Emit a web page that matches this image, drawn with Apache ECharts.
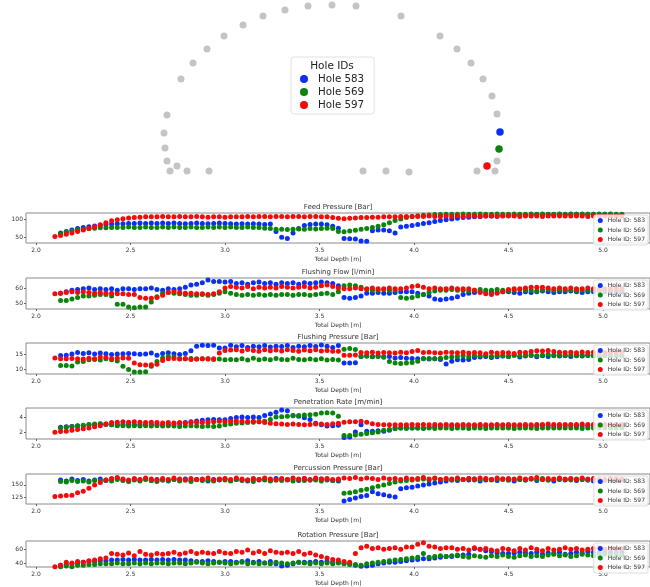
<!DOCTYPE html>
<html>
<head>
<meta charset="utf-8">
<script src="https://cdn.jsdelivr.net/npm/echarts@6/dist/echarts.min.js"></script>
<style>
html,body{margin:0;padding:0;background:#fff;}
#chart{width:650px;height:587px;}
</style>
</head>
<body>
<div id="chart"></div>
<script>
// hole layout (top view), units ~ m
var holeX=[17.0,18.7,20.9,17.7,16.7,16.5,16.4,16.7,18.1,19.3,20.7,22.4,24.3,26.3,28.5,30.8,33.2,35.6,40.1,44.0,45.7,47.1,48.3,49.2,49.7,49.7,47.7,49.5,36.3,38.6,40.9];
var holeY=[0.9,0.9,0.9,1.4,1.9,3.2,4.7,6.5,10.1,11.7,13.1,14.4,15.5,16.4,17.0,17.4,17.5,17.4,16.4,14.4,13.1,11.7,10.1,8.4,6.6,1.9,0.9,0.9,0.9,0.9,0.8];
var holeIds=['583','569','597'];
var selX=[50.0,49.9,48.7];
var selY=[4.8,3.1,1.4];
var holeColors=['#0a2ff5','#0a840a','#f50a0a'];

var depth=[2.10,2.13,2.16,2.19,2.22,2.25,2.28,2.31,2.34,2.37,
 2.40,2.43,2.46,2.49,2.52,2.55,2.58,2.61,2.64,2.67,
 2.70,2.73,2.76,2.79,2.82,2.85,2.88,2.91,2.94,2.97,
 3.00,3.03,3.06,3.09,3.12,3.15,3.18,3.21,3.24,3.27,
 3.30,3.33,3.36,3.39,3.42,3.45,3.48,3.51,3.54,3.57,
 3.60,3.63,3.66,3.69,3.72,3.75,3.78,3.81,3.84,3.87,
 3.90,3.93,3.96,3.99,4.02,4.05,4.08,4.11,4.14,4.17,
 4.20,4.23,4.26,4.29,4.32,4.35,4.38,4.41,4.44,4.47,
 4.50,4.53,4.56,4.59,4.62,4.65,4.68,4.71,4.74,4.77,
 4.80,4.83,4.86,4.89,4.92,4.95,4.98,5.01,5.04,5.07,
 5.10];
var depthTicks=[2.0,2.5,3.0,3.5,4.0,4.5,5.0];

// Feed Pressure [Bar]
var feed583=[null,62,66,70,74,77,79,81,83,85,
 86,87,87,88,88,89,88,89,88,89,
 88,89,88,87,88,89,88,87,88,89,
 88,87,86,87,86,87,86,85,86,66,
 50,47,62,74,82,85,86,86,84,80,
 75,47,46,45,40,39,68,70,70,68,
 62,78,80,82,85,88,90,93,96,98,
 100,102,104,105,106,107,108,108,109,109,
 110,110,111,111,111,112,112,112,112,113,
 112,113,113,112,113,113,112,113,113,112,
 112];
var feed569=[null,60,64,67,70,72,74,75,76,76,
 77,77,77,78,77,77,78,77,77,78,
 77,78,77,77,78,77,77,78,77,78,
 77,78,77,77,78,77,77,75,74,72,
 72,71,72,73,72,74,73,74,75,74,
 66,65,67,69,72,74,77,80,84,90,
 96,100,104,107,109,110,111,112,112,113,
 113,113,114,113,113,114,113,113,114,113,
 113,114,113,113,114,113,114,113,113,114,
 113,114,113,114,113,113,114,113,114,113,
 113];
var feed597=[52,55,58,62,66,70,74,79,84,90,
 95,98,101,103,104,105,106,106,106,107,
 106,106,107,106,106,107,106,105,106,106,
 105,106,106,106,107,106,107,107,106,107,
 107,106,107,107,106,107,107,106,106,104,
 102,101,102,103,104,104,105,105,106,106,
 106,107,107,107,107,107,108,107,107,108,
 107,108,107,108,108,107,108,108,107,108,
 108,108,107,108,108,108,107,108,108,108,
 108,108,108,108,107,108,108,108,108,108,
 108];

// Flushing Flow [l/min]
var flow583=[null,57,58,59,59.5,60,60.5,59.5,60,59.5,
 60,59,60,60,59.5,60,60,60.5,59.5,59,
 60,59.5,60,61,62.5,63,64,66,65,65,
 64.5,65,63.5,64,63,64,64.5,63.5,64,63,
 64,63.5,64,63,64,63.5,64,64.5,64,63.5,
 62,54,53.5,54,55,57,57,57.5,57,57,
 57.5,58,58,58,57,56,55,53,52.5,53,
 53.5,54.5,56,57,57.5,58,57.5,58,57.5,58,
 58,57.5,57,58,57.5,58,58.5,58,57.5,58,
 58,58.5,58,57.5,58,58,58.5,58,58,58,
 58];
var flow569=[null,52,52,53,54,55,55,55.5,56,56,
 55,49.5,49.5,47.5,47,47.5,47.5,51,54.5,57,
 57.5,57,56.5,56,55.5,55.5,56,55.5,56,57,
 58,57,56,55.5,56,55.5,56,55.5,56,55.5,
 56,56,55.5,56,56,55.5,56,56.5,57,56,
 58,62,62.5,62,61,59.5,59,59,59.5,59,
 59,54,53.5,54,55,56,57.5,58.5,59,59,
 59.5,59,59,58.5,59,59.5,59,59,59.5,59,
 58.5,59,59.5,59,59,58.5,59,59.5,59,59,
 59,59,58.5,59,59,59.5,59,59,59,59,
 59];
var flow597=[56.5,57,57.5,58,57.5,58,57.5,57,57.5,57,
 57,56.5,56.5,56,56,54,53.5,53.5,54,55.5,
 57.5,58,57.5,57,57,56.5,56.5,56,56.5,58,
 60.5,61.5,61,60.5,61.5,60,61,60.5,61,60.5,
 61.5,61,60.5,61,61.5,60.5,61,62,62.5,61.5,
 60.5,60,60,60.5,60,60,60.5,60,60,60.5,
 60,60,60.5,61.5,62,61,60,60.5,60,60,
 60.5,60,60,60,59,57.5,56.5,56,57,58,
 59.5,60,60,60.5,61,61,61,60.5,60,60.5,
 60,60.5,60,60,60.5,60,60,60,60,60,
 60];

// Flushing Pressure [Bar]
var fpres583=[null,14.5,14.6,15,15.5,15.2,15.4,15,15.3,15.1,
 14.8,15,15.1,15.2,15.1,14.9,15,15.3,14.6,15.2,
 15.4,15.1,14.8,15.2,16.1,17.6,17.9,17.8,17.9,17,
 17,17.9,17.4,17.8,17.2,17.6,17.4,17.8,17.3,17.6,
 17.5,17.8,17.2,17.6,17.4,17.8,17.5,18,17.6,17.2,
 17.8,12,12,12.1,14.2,14.3,14.2,14.3,14.1,14.2,
 13.7,13.8,13.6,13.5,13.4,13.5,13.3,13.4,13.2,11.7,
 12.6,13.1,13,13.2,13.8,14,14.2,13.8,14.1,14.3,
 14.2,14.6,14,14.3,14.5,14.1,14.4,14.2,14.6,14.3,
 14.4,14.2,14.5,14.3,14.6,14.4,14.2,14.5,14.3,14.4,
 14.4];
var fpres569=[null,11.2,11.2,11,12.3,12.5,13.1,13.2,13,13.4,
 13.1,12.7,10.9,9.8,9,9,9.1,10.9,12.5,13.7,
 14.2,14,13.4,13.4,13.5,13.3,13.4,13.4,13.2,13.3,
 13.1,13.2,13.1,13.4,13,13.6,13.1,13.3,13.1,13.5,
 13.2,13.1,13.6,13.2,13.1,13.3,13.1,13.4,13,13.2,
 13,16.6,16.8,16.5,14.2,14.3,14.1,14.2,13.9,12.5,
 12,11.8,12,12.2,12.6,13.4,13.5,13.4,13.6,13.8,
 14,14.2,14.4,14.1,14.5,14.3,14.6,14.2,14.5,14.4,
 14.2,14.6,14.3,14.5,14.7,14.4,14.6,14.8,14.4,14.6,
 14.5,14.7,14.4,14.6,14.5,14.4,14.6,14.5,14.5,14.5,
 14.5];
var fpres597=[13.7,13.4,13.4,13.5,13.4,13.3,13.6,13.4,14,13.8,
 13.4,13.6,13.7,13.6,12,11.4,11.3,11.4,11.6,12.8,
 13.4,13.5,13.3,13.4,13.2,13.3,13.4,13.3,13.4,15.3,
 16.2,16.3,16.4,16,16.5,16.2,15.9,16.4,16.1,16.3,
 16,16.4,16.2,15.9,16.3,16.1,16.4,16,16.2,15.9,
 15.9,14.6,14.6,14.7,15.5,15.4,15.6,15.3,15.5,15.4,
 15.3,15.6,15.4,15.8,16.2,15.5,15.6,15.4,15.3,15.6,
 15.5,15.4,15.6,15.3,15.5,15.4,15.1,15.6,15.3,15.5,
 15.4,15.2,15.6,15.5,15.8,16.1,16,16.2,15.8,15.6,
 15.5,15.6,15.4,15.7,15.5,15.6,15.4,15.5,15.5,15.5,
 15.5];

// Penetration Rate [m/min]
var pen583=[null,2.7,2.75,2.8,2.85,2.9,3,3.05,3.1,3.05,
 3,3,3.05,3,3,3.05,3,3,3.05,3,
 3,3.1,3.2,3.3,3.4,3.5,3.6,3.65,3.7,3.65,
 3.65,3.8,3.95,4,3.95,4,3.95,4.2,4.4,4.6,
 4.9,4.8,4.2,4.1,3.9,3.7,3.2,3,2.85,2.9,
 2.95,1.4,1.45,2.1,3,2.2,2.2,2.25,2.2,2.3,
 2.6,2.6,2.65,2.6,2.6,2.6,2.65,2.8,2.9,2.85,
 2.9,2.85,2.9,2.9,2.85,2.9,2.85,2.9,2.95,2.9,
 2.85,2.9,2.9,2.85,2.9,2.9,2.95,2.9,2.85,2.9,
 2.9,2.9,2.85,2.9,2.9,2.9,2.9,2.9,2.9,2.9,
 2.9];
var pen569=[null,2.6,2.7,2.8,2.9,2.95,3.05,3.1,3.15,3.1,
 3,2.9,2.9,2.85,2.9,2.85,2.9,2.85,2.9,2.85,
 2.9,2.85,2.8,2.85,2.9,2.85,2.8,2.85,2.8,2.85,
 3,3.1,3.2,3.25,3.3,3.35,3.4,3.45,3.7,4,
 4.05,4.1,4.15,4.2,4.25,4.3,4.35,4.5,4.55,4.5,
 4.1,1.65,1.65,1.7,1.8,1.9,2,2.1,2.3,2.4,
 2.5,2.6,2.55,2.6,2.6,2.55,2.6,2.55,2.6,2.6,
 2.55,2.6,2.6,2.55,2.6,2.6,2.55,2.6,2.6,2.6,
 2.6,2.55,2.6,2.6,2.6,2.55,2.6,2.6,2.6,2.6,
 2.6,2.6,2.6,2.55,2.6,2.6,2.6,2.6,2.6,2.6,
 2.6];
var pen597=[2.05,2.15,2.2,2.3,2.4,2.5,2.6,2.75,2.9,3.1,
 3.3,3.35,3.4,3.35,3.4,3.35,3.3,3.35,3.3,3.25,
 3.3,3.25,3.3,3.25,3.3,3.35,3.3,3.35,3.4,3.45,
 3.4,3.45,3.5,3.45,3.4,3.45,3.4,3.3,3.2,3.15,
 3.1,3.05,3.1,3.05,3,3.05,3.1,3.1,3.05,3.15,
 3.2,3.35,3.4,3.4,3.45,3.35,3.15,3.05,3,3,
 3,3,3,3.05,3,3.05,3,3.05,3,3.05,
 3,3,3.05,3,3,3.05,3,3,3.05,3,
 3.05,3,3,3.05,3,3.05,3.05,3.1,3.05,3.05,
 3.05,3.05,3.05,3.1,3.05,3.05,3.05,3,3.05,3.05,
 3.05];

// Percussion Pressure [Bar]
var perc583=[null,160,158,162,159,161,158,160,162,159,
 161,163,160,158,161,160,162,159,161,160,
 158,161,160,162,159,161,160,158,161,160,
 162,159,161,160,158,162,160,161,159,163,
 161,160,162,159,163,160,161,162,160,159,
 158,117,120,123,126,128,136,132,130,127,
 125,142,144,145,148,150,152,154,156,158,
 160,159,161,160,162,158,160,161,159,162,
 160,158,161,160,162,159,161,160,158,161,
 160,162,159,161,160,158,161,160,159,161,
 160];
var perc569=[null,157,156,159,157,158,156,159,158,160,
 158,161,159,157,160,158,161,159,157,160,
 159,161,158,160,157,161,159,160,158,161,
 160,158,161,159,160,157,161,160,158,160,
 159,161,158,160,159,161,160,158,161,159,
 160,133,134,136,139,141,144,147,150,153,
 156,158,159,160,161,162,160,163,161,162,
 160,162,161,163,160,161,162,160,162,161,
 160,162,161,160,162,161,163,160,161,162,
 161,160,162,161,160,162,161,160,161,161,
 161];
var perc597=[126,127,128,129,134,137,143,150,155,160,
 163,165,162,160,163,161,164,162,160,163,
 161,164,162,160,163,161,162,164,160,162,
 163,161,164,162,160,163,161,164,162,160,
 163,161,164,162,163,160,164,162,163,161,
 162,164,163,165,162,164,163,161,164,162,
 163,161,164,162,163,165,162,164,161,163,
 162,164,161,163,162,164,163,161,164,162,
 163,161,164,162,163,165,161,163,162,164,
 162,163,161,164,162,163,162,161,163,162,
 162];

// Rotation Pressure [Bar]
var rot583=[null,38,39,40,40,42,43,43,44,44,
 45,45,46,45,46,45,45,46,45,46,
 45,46,45,45,44,43,43,44,43,42,
 43,43,42,43,44,42,43,41,43,40,
 37,38,40,42,42,42,43,42,43,42,
 42,41,40,38,36.5,37,38,40,41,42,
 42,43,44,45,46,47,47,48,49,50,
 50,51,52,53,61,60,58,57,55,54,
 54,55,56,55,54,56,53,55,54,56,
 53,54,56,55,57,56,55,56,56,56,
 56];
var rot569=[null,36,37,36,38,38,39,39,40,40,
 40,41,40,40,41,40,41,40,41,41,
 40,41,41,40,41,42,41,40,41,42,
 41,40,41,42,40,41,40,41,40,42,
 41,40,41,42,41,40,41,40,41,40,
 41,40,39,39,38,40,41,42,43,44,
 45,46,47,48,49,54,49,50,51,50,
 51,52,50,49,51,50,49,51,50,52,
 50,49,51,52,50,51,50,52,53,51,
 52,50,51,53,52,51,52,53,52,52,
 52];
var rot597=[36,38,42,41,43,42,44,45,47,48,
 54,53,52,55,51,57,53,52,54,53,
 54,56,53,55,57,54,56,55,54,57,
 55,54,57,56,59,55,57,54,58,56,
 55,56,54,57,53,55,52,50,48,46,
 45,43,42,54,62,64,61,62,60,61,
 62,60,63,63,67,69,64,63,61,62,
 62,60,61,59,62,60,61,59,58,61,
 60,58,61,59,62,60,58,61,59,60,
 62,60,61,59,60,61,62,60,61,60,
 61];

var panels=[
  {title:'Feed Pressure [Bar]',top:213,h:30,min:34.4,max:116.4,ticks:[50,100],vals:[feed583,feed569,feed597]},
  {title:'Flushing Flow [l/min]',top:278,h:31,min:46.2,max:67.3,ticks:[50,60],vals:[flow583,flow569,flow597]},
  {title:'Flushing Pressure [Bar]',top:343,h:31,min:8.33,max:18.67,ticks:[10,15],vals:[fpres583,fpres569,fpres597]},
  {title:'Penetration Rate [m/min]',top:408,h:31,min:1.2,max:5.15,ticks:[2,4],vals:[pen583,pen569,pen597]},
  {title:'Percussion Pressure [Bar]',top:474,h:30,min:110.8,max:172.4,ticks:[125,150],vals:[perc583,perc569,perc597]},
  {title:'Rotation Pressure [Bar]',top:541,h:32,min:35.5,max:71.4,ticks:[40,60],vals:[rot583,rot569,rot597]}
];

var FONT='DejaVu Sans';
var grids=[{left:0,top:0,width:650,height:180,show:false}];
var xAxes=[{gridIndex:0,type:'value',min:0,max:65,show:false}];
var yAxes=[{gridIndex:0,type:'value',min:0,max:18,show:false}];
var series=[];
var legends=[];
var graphics=[];

// top: hole layout
var grayPts=[];
for(var i=0;i<holeX.length;i++){ grayPts.push([holeX[i],holeY[i]]); }
series.push({type:'scatter',xAxisIndex:0,yAxisIndex:0,data:grayPts,symbolSize:7,
  itemStyle:{color:'#c4c4c4',opacity:1},silent:true,name:'other'});
for(var h=0;h<3;h++){
  series.push({type:'scatter',name:'Hole '+holeIds[h],xAxisIndex:0,yAxisIndex:0,
    data:[[selX[h],selY[h]]],symbolSize:7.5,itemStyle:{color:holeColors[h],opacity:1}});
}
legends.push({data:['Hole 583','Hole 569','Hole 597'],left:291,top:57,orient:'vertical',
  padding:[17,10,4,9],itemWidth:8,itemHeight:8,itemGap:3,icon:'circle',
  backgroundColor:'#fff',borderColor:'#e2e2e2',borderWidth:1,borderRadius:3,
  textStyle:{fontFamily:FONT,fontSize:10.3,color:'#222',padding:[0,0,0,5]}});
graphics.push({type:'text',x:332,y:66,z:100,style:{text:'Hole IDs',fontFamily:FONT,fontSize:10.5,
  fill:'#222',textAlign:'center',textVerticalAlign:'middle'}});

// depth panels
for(var p=0;p<panels.length;p++){
  var pn=panels[p];
  var gi=p+1;
  grids.push({left:26,top:pn.top,width:624,height:pn.h,show:true,borderColor:'#8a8a8a',borderWidth:1,backgroundColor:'transparent'});
  xAxes.push({gridIndex:gi,type:'value',min:1.947,max:5.249,
    axisLine:{show:false},splitLine:{show:false},
    axisTick:{show:true,customValues:depthTicks,length:2,lineStyle:{color:'#666'}},
    axisLabel:{customValues:depthTicks,fontFamily:FONT,fontSize:6,color:'#333',margin:4,
      formatter:function(v){return v.toFixed(1);}},
    name:'Total Depth [m]',nameLocation:'middle',nameGap:13,
    nameTextStyle:{fontFamily:FONT,fontSize:6,color:'#333'}});
  yAxes.push({gridIndex:gi,type:'value',min:pn.min,max:pn.max,
    axisLine:{show:false},splitLine:{show:false},
    axisTick:{show:true,customValues:pn.ticks,length:2,lineStyle:{color:'#666'}},
    axisLabel:{customValues:pn.ticks,fontFamily:FONT,fontSize:6,color:'#333',margin:3}});
  var names=[];
  for(var h=0;h<3;h++){
    var arr=pn.vals[h];
    var pts=[];
    for(var i=0;i<depth.length;i++){
      if(arr[i]!=null){ pts.push([depth[i],arr[i]]); }
    }
    var nm='Hole ID: '+holeIds[h];
    names.push(nm);
    series.push({type:'scatter',name:nm,xAxisIndex:gi,yAxisIndex:gi,data:pts,symbolSize:5,
      itemStyle:{color:holeColors[h],opacity:1},animation:false});
  }
  legends.push({data:names,right:2,top:pn.top+2,orient:'vertical',padding:[2,3,2,4],
    itemWidth:5,itemHeight:5,itemGap:2.5,icon:'circle',
    backgroundColor:'rgba(255,255,255,0.8)',borderColor:'#dcdcdc',borderWidth:1,borderRadius:2,
    textStyle:{fontFamily:FONT,fontSize:6,color:'#333',lineHeight:7}});
  graphics.push({type:'text',x:338,y:pn.top-6,style:{text:pn.title,fontFamily:FONT,fontSize:7,
    fill:'#333',textAlign:'center',textVerticalAlign:'middle'}});
}

var chartOption=echarts.init(document.getElementById('chart'));
chartOption.setOption({
  animation:false,
  backgroundColor:'#fff',
  grid:grids,
  xAxis:xAxes,
  yAxis:yAxes,
  legend:legends,
  graphic:graphics,
  series:series
});
</script>
</body>
</html>
